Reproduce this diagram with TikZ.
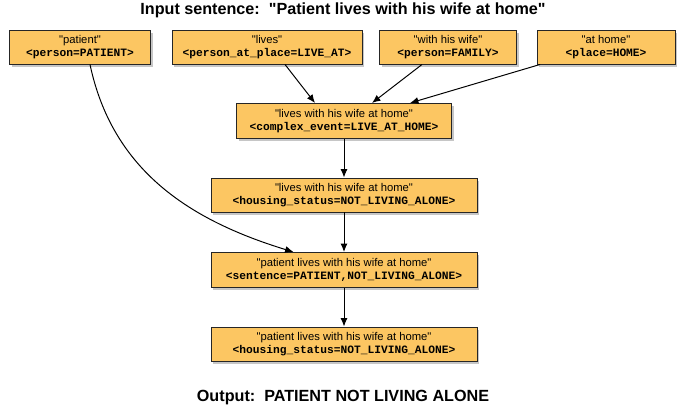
\documentclass[tikz,border=0pt]{standalone}
\usepackage{fontspec}
\setmainfont{Liberation Sans}[Ligatures=TeXOff]
\setmonofont{Liberation Mono}
\usetikzlibrary{arrows.meta,shadows}
\definecolor{boxfill}{RGB}{252,198,98}
\newcommand{\tag}[1]{{\ttfamily\bfseries #1}}
\begin{document}
\begin{tikzpicture}
		\tikzset{rule/.style = {shape=rectangle,draw=black!85,fill=boxfill,line width=0.7pt,align=center,
			minimum height=0.85cm,inner sep=1pt,font=\fontsize{8}{9}\selectfont,
			drop shadow={shadow xshift=1.5pt,shadow yshift=-2pt,opacity=0.45}}}
		\tikzset{caption/.style = {font=\fontsize{11.5}{13}\selectfont\bfseries}}
		\tikzset{flow/.style = {-{Latex[length=6pt,width=5pt]},line width=0.7pt}}
		\useasboundingbox (0,0) rectangle (17.125,10.25);
		\node[caption] (input) at (8.575,10.0) {Input sentence:\ \ "Patient lives with his wife at home"};
		\node[rule,minimum width=3.525cm] (patient) at (2.0,9.075) {"patient"\\\tag{<person=PATIENT>}};
		\node[rule,minimum width=4.75cm] (lives) at (6.675,9.075) {"lives"\\\tag{<person\_at\_place=LIVE\_AT>}};
		\node[rule,minimum width=3.425cm] (wife) at (11.2,9.075) {"with his wife"\\\tag{<person=FAMILY>}};
		\node[rule,minimum width=3.45cm] (home) at (15.15,9.075) {"at home"\\\tag{<place=HOME>}};
		\node[rule,minimum width=5.375cm,minimum height=0.875cm] (event) at (8.6,7.225) {"lives with his wife at home"\\\tag{<complex\_event=LIVE\_AT\_HOME>}};
		\node[rule,minimum width=6.65cm] (housing) at (8.6,5.375) {"lives with his wife at home"\\\tag{<housing\_status=NOT\_LIVING\_ALONE>}};
		\node[rule,minimum width=6.65cm,minimum height=0.875cm] (sentence) at (8.6,3.5) {"patient lives with his wife at home"\\\tag{<sentence=PATIENT,NOT\_LIVING\_ALONE>}};
		\node[rule,minimum width=6.65cm] (result) at (8.6,1.65) {"patient lives with his wife at home"\\\tag{<housing\_status=NOT\_LIVING\_ALONE>}};
		\node[caption] (output) at (8.575,0.3) {Output:\ \ PATIENT NOT LIVING ALONE};
		\draw[flow] ([xshift=0.45cm]lives.south) -- ([xshift=-0.725cm]event.north);
		\draw[flow] ([xshift=-0.65cm]wife.south) -- ([xshift=0.7cm]event.north);
		\draw[flow] ([xshift=-1.65cm]home.south) -- ([xshift=1.65cm]event.north);
		\draw[flow] (event) -- (housing);
		\draw[flow] (housing) -- (sentence);
		\draw[flow] (sentence) -- (result);
		\draw[flow] ([xshift=0.25cm]patient.south) to[out=-78, in=163] ([xshift=2.075cm]sentence.north west);
	\end{tikzpicture}
\end{document}
